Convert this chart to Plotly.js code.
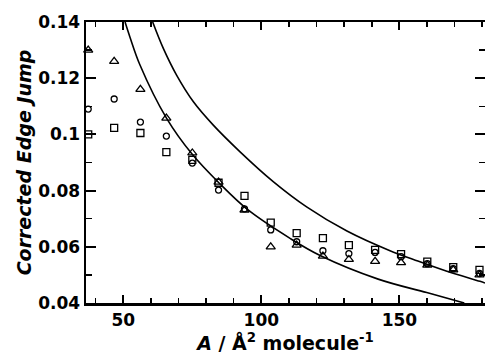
<!DOCTYPE html>
<html>
<head>
<meta charset="utf-8">
<script src="https://cdn.plot.ly/plotly-3.0.1.min.js"></script>
<style>html,body{margin:0;padding:0;background:#fff;}#chart{width:485px;height:360px;}</style>
</head>
<body>
<div id="chart"></div>
<script>
// Molecular area (Å^2 / molecule)
const area = [37.3, 46.7, 56.2, 65.6, 75.0, 84.5, 93.9, 103.4, 112.8, 122.3, 131.7, 141.2, 150.6, 160.1, 169.5, 179.0];
// Corrected edge jump, three data sets
const triangleJump = [0.130, 0.126, 0.116, 0.1058, 0.0934, 0.0830, 0.0731, 0.0600, 0.0606, 0.0567, 0.0555, 0.0548, 0.0544, 0.0535, 0.0518, 0.0500];
const circleJump   = [0.109, 0.1126, 0.1044, 0.0994, 0.0898, 0.0802, 0.0735, 0.0660, 0.0618, 0.0586, 0.0576, 0.0580, 0.0565, 0.0540, 0.0522, 0.0505];
const squareJump   = [0.100, 0.1023, 0.1005, 0.0937, 0.0909, 0.0828, 0.0781, 0.0686, 0.0649, 0.0631, 0.0606, 0.0589, 0.0574, 0.0547, 0.0528, 0.0518];
// Curves
const lowerCurveA = [50.65, 52.4, 56.05, 65.7, 74.9, 84.7, 95.2, 110.4, 121.3, 142.3, 159.9, 173.5];
const lowerCurveV = [0.1400, 0.1347, 0.1247, 0.1057, 0.0930, 0.0827, 0.0731, 0.0630, 0.0569, 0.0485, 0.0437, 0.0400];
const upperCurveA = [60.65, 64.5, 69.3, 75.4, 82.6, 92.3, 104.3, 116.4, 131.0, 146.6, 155.1, 167.2, 179.2, 181.0];
const upperCurveV = [0.1400, 0.1306, 0.1211, 0.1116, 0.1033, 0.0938, 0.0832, 0.0742, 0.0656, 0.0586, 0.0555, 0.0513, 0.0477, 0.0471];
// Tick labels
const xTickVals = [50, 100, 150];
const xTickText = ["50", "100", "150"];
const yTickVals = [0.04, 0.06, 0.08, 0.10, 0.12, 0.14];
const yTickText = ["0.04", "0.06", "0.08", "0.1", "0.12", "0.14"];

const FONT = 'DejaVu Sans, Liberation Sans, Arial, sans-serif';
const mk = (sym, size) => ({symbol: sym, size: size, color: '#000', line: {color: '#000', width: 1.3}});
const traces = [
  {x: lowerCurveA, y: lowerCurveV, mode: 'lines', line: {color: '#000', width: 1.6, shape: 'spline', smoothing: 1}, hoverinfo: 'skip'},
  {x: upperCurveA, y: upperCurveV, mode: 'lines', line: {color: '#000', width: 1.6, shape: 'spline', smoothing: 1}, hoverinfo: 'skip'},
  {x: area, y: squareJump, mode: 'markers', marker: mk('square-open', 7), cliponaxis: false},
  {x: area, y: circleJump, mode: 'markers', marker: mk('circle-open', 6), cliponaxis: false},
  {x: area, y: triangleJump, mode: 'markers', marker: mk('triangle-up-open', 8), cliponaxis: false}
];
const tickFont = {family: FONT, size: 17, color: '#000', weight: 'bold'};
const layout = {
  width: 485, height: 360,
  margin: {l: 86, r: 0, t: 22, b: 57},
  paper_bgcolor: '#fff', plot_bgcolor: '#fff',
  showlegend: false,
  xaxis: {
    range: [36.5, 181], showgrid: false, zeroline: false,
    showline: true, linecolor: '#000', linewidth: 2.5, mirror: 'allticks',
    ticks: 'inside', ticklen: 8, tickwidth: 2, tickcolor: '#000',
    tickvals: xTickVals, ticktext: xTickText, tickfont: tickFont,
    minor: {ticks: 'inside', ticklen: 5, tickwidth: 1.5, tickcolor: '#000', dtick: 10, tick0: 0, showgrid: false},
    title: {text: '<i>A</i> / Å<sup>2</sup> molecule<sup>-1</sup>', font: {family: FONT, size: 19, color: '#000', weight: 'bold'}, standoff: 4}
  },
  yaxis: {
    range: [0.04, 0.14], showgrid: false, zeroline: false,
    showline: true, linecolor: '#000', linewidth: 2.5, mirror: 'allticks',
    ticks: 'inside', ticklen: 10, tickwidth: 2, tickcolor: '#000',
    tickvals: yTickVals, ticktext: yTickText, tickfont: tickFont,
    minor: {ticks: 'inside', ticklen: 6, tickwidth: 1.5, tickcolor: '#000', dtick: 0.01, tick0: 0, showgrid: false},
    title: {text: '<i>Corrected Edge Jump</i>', font: {family: FONT, size: 19, color: '#000', weight: 'bold'}, standoff: 2}
  }
};
Plotly.newPlot('chart', traces, layout, {staticPlot: true, displayModeBar: false});
</script>
</body>
</html>
